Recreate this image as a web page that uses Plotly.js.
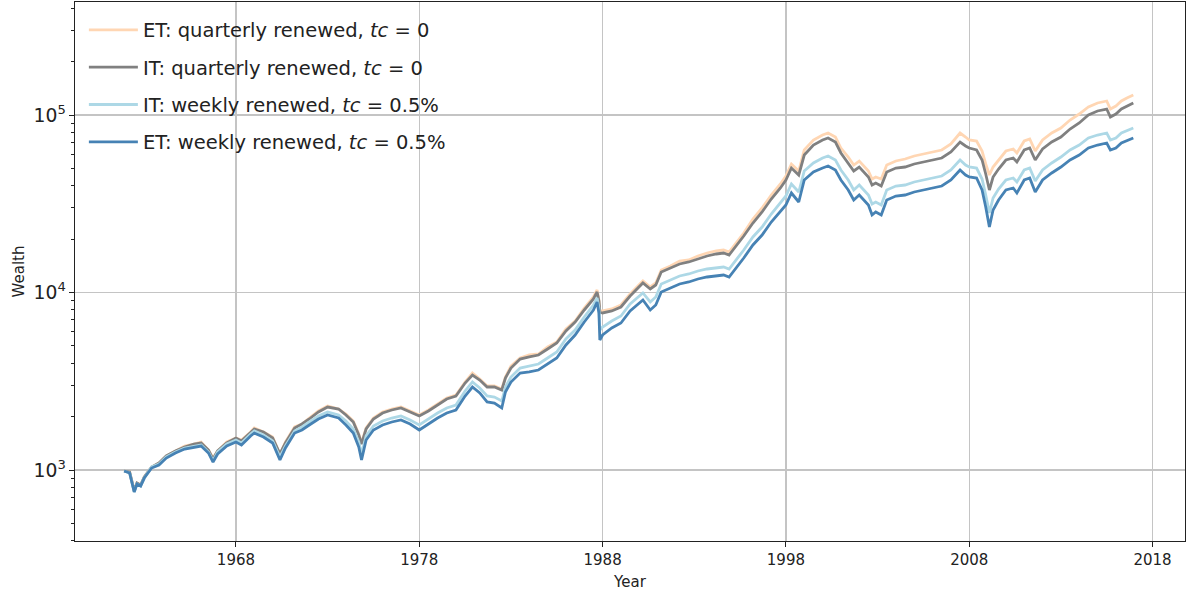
<!DOCTYPE html>
<html>
<head>
<meta charset="utf-8">
<script src="https://cdn.plot.ly/plotly-3.0.1.min.js"></script>
<style>
html,body{margin:0;padding:0;background:#fff;}
#chart{width:1189px;height:599px;}
</style>
</head>
<body>
<div id="chart"></div>
<script>
// Time axis (decimal years)
const years = [1961.9, 1962.2, 1962.45, 1962.6, 1962.8, 1963.0, 1963.4, 1963.8, 1964.2, 1964.7,
  1965.2, 1965.7, 1966.1, 1966.5, 1966.75, 1967.0, 1967.5, 1968.0, 1968.3, 1968.8,
  1969.0, 1969.5, 1970.0, 1970.4, 1970.7, 1971.2, 1971.6, 1972.0, 1972.5, 1973.0,
  1973.6, 1974.0, 1974.4, 1974.7, 1974.85, 1975.1, 1975.5, 1976.0, 1976.5, 1977.0,
  1977.5, 1978.0, 1978.5, 1979.0, 1979.5, 1980.0, 1980.5, 1980.9, 1981.3, 1981.7,
  1982.1, 1982.5, 1982.7, 1983.0, 1983.5, 1984.0, 1984.5, 1985.0, 1985.5, 1986.0,
  1986.5, 1987.0, 1987.5, 1987.7, 1987.8, 1987.85, 1988.0, 1988.5, 1989.0, 1989.5,
  1989.9, 1990.2, 1990.6, 1990.9, 1991.2, 1991.7, 1992.2, 1992.7, 1993.2, 1993.7,
  1994.2, 1994.6, 1994.9, 1995.3, 1995.7, 1996.2, 1996.7, 1997.2, 1997.7, 1998.0,
  1998.3, 1998.7, 1999.0, 1999.5, 2000.0, 2000.3, 2000.7, 2001.0, 2001.4, 2001.7,
  2002.0, 2002.5, 2002.7, 2002.9, 2003.2, 2003.5, 2004.0, 2004.5, 2005.0, 2005.5,
  2006.0, 2006.5, 2007.0, 2007.5, 2007.8, 2008.0, 2008.4, 2008.7, 2008.9, 2009.1,
  2009.3, 2009.6, 2010.0, 2010.4, 2010.6, 2011.0, 2011.3, 2011.6, 2012.0, 2012.5,
  2013.0, 2013.5, 2014.0, 2014.5, 2015.0, 2015.5, 2015.7, 2016.0, 2016.3, 2016.6, 2016.95];

// ET: quarterly renewed, tc = 0
const etQuarterly = [987, 974, 762, 845, 823, 913, 1040, 1095, 1199, 1280,
  1365, 1401, 1438, 1296, 1168, 1280, 1438, 1515, 1476, 1637,
  1724, 1637, 1535, 1231, 1438, 1747, 1816, 1963, 2150, 2294,
  2206, 2068, 1888, 1596, 1419, 1724, 1963, 2122, 2206, 2264,
  2150, 2041, 2178, 2354, 2545, 2646, 3132, 3520, 3256, 2973,
  2973, 2860, 3342, 3854, 4276, 4445, 4503, 4931, 5262, 6228,
  6910, 8180, 9433, 10330, 9073, 7867, 7867, 8074, 8504, 9808,
  10740, 11610, 10740, 11312, 13390, 14104, 15049, 15244, 16057, 16694,
  17133, 17355, 16912, 19006, 21638, 25944, 29925, 35421, 40856, 45322,
  52957, 48360, 63499, 72294, 77138, 79169, 75164, 65169, 57988, 52271,
  55059, 48360, 43588, 44737, 43588, 52271, 55059, 56499, 58747, 60292,
  61876, 63499, 68642, 79169, 75164, 72294, 71366, 62684, 52957, 45912,
  50934, 55774, 62684, 64325, 61078, 71366, 73234, 62684, 72294, 79169,
  84471, 93707, 101297, 110922, 116836, 119906, 108073, 112374, 119906, 124657, 129600];

// IT: quarterly renewed, tc = 0
const itQuarterly = [987, 974, 762, 845, 823, 913, 1040, 1095, 1199, 1280,
  1347, 1401, 1419, 1296, 1153, 1280, 1419, 1515, 1457, 1637,
  1702, 1637, 1515, 1231, 1419, 1724, 1816, 1938, 2122, 2264,
  2206, 2041, 1864, 1575, 1401, 1702, 1938, 2095, 2178, 2235,
  2122, 2015, 2150, 2324, 2512, 2612, 3091, 3429, 3214, 2935,
  2935, 2823, 3299, 3755, 4220, 4332, 4445, 4805, 5194, 6069,
  6821, 7970, 9191, 10066, 8957, 7766, 7666, 7867, 8286, 9557,
  10464, 11312, 10464, 11022, 13048, 13742, 14475, 14855, 15442, 16057,
  16479, 16694, 16265, 18280, 20812, 24636, 28413, 33629, 38789, 43029,
  50277, 45912, 59511, 67753, 72294, 74195, 70446, 61078, 53648, 48360,
  50934, 44737, 40328, 41390, 39809, 47736, 50277, 50934, 52957, 54348,
  55774, 57241, 61876, 70446, 66884, 65169, 63499, 55774, 46515, 37795,
  44737, 49626, 55774, 57241, 54348, 63499, 65169, 55774, 64325, 70446,
  75164, 83377, 90135, 99985, 105317, 108073, 97428, 101297, 108073, 112374, 116836];

// IT: weekly renewed, tc = 0.5%
const itWeekly = [987, 962, 752, 834, 813, 901, 1040, 1081, 1184, 1263,
  1330, 1365, 1383, 1263, 1124, 1263, 1401, 1476, 1419, 1596,
  1659, 1575, 1457, 1184, 1365, 1659, 1747, 1864, 2015, 2122,
  2041, 1888, 1702, 1438, 1231, 1555, 1770, 1888, 1963, 2015,
  1913, 1793, 1938, 2095, 2235, 2324, 2787, 3132, 2897, 2612,
  2578, 2448, 2935, 3342, 3755, 3854, 3955, 4276, 4622, 5470,
  6148, 7278, 8504, 9312, 8180, 6148, 6392, 6910, 7373, 8615,
  9312, 9936, 8842, 9433, 11167, 11761, 12388, 12714, 13218, 13564,
  13742, 13921, 13564, 15244, 17355, 20544, 23389, 27686, 31931, 34966,
  40856, 36829, 48360, 53648, 57241, 58747, 55774, 48989, 43029, 37795,
  40328, 35421, 31520, 32348, 31112, 37795, 39809, 40328, 41930, 43029,
  44161, 45322, 48989, 55774, 52271, 50934, 50277, 43588, 35421, 28047,
  34070, 38286, 43029, 44161, 41930, 48989, 50277, 42478, 48989, 53648,
  57988, 63499, 67753, 74195, 77138, 79169, 72294, 74195, 79169, 81251, 84471];

// ET: weekly renewed, tc = 0.5%
const etWeekly = [987, 962, 752, 834, 813, 901, 1026, 1067, 1168, 1247,
  1313, 1347, 1365, 1247, 1109, 1231, 1365, 1438, 1383, 1555,
  1616, 1535, 1419, 1139, 1330, 1616, 1680, 1793, 1938, 2041,
  1963, 1793, 1616, 1347, 1139, 1476, 1680, 1793, 1864, 1913,
  1816, 1680, 1816, 1963, 2095, 2178, 2612, 2935, 2716, 2416,
  2385, 2235, 2751, 3132, 3520, 3566, 3659, 3955, 4276, 5061,
  5762, 6821, 7970, 8842, 7666, 5400, 5762, 6310, 6733, 7867,
  8504, 9073, 7970, 8504, 10066, 10602, 11167, 11460, 11914, 12228,
  12388, 12549, 12228, 13742, 15645, 18518, 21083, 24957, 28413, 31112,
  36354, 32348, 43029, 47736, 50277, 51600, 48989, 43029, 37795, 33197,
  35421, 31112, 27327, 28413, 27327, 33197, 34966, 35421, 36829, 37795,
  38789, 39809, 43029, 48989, 45912, 44737, 44161, 37795, 30316, 23389,
  29158, 33197, 37795, 38789, 36354, 43029, 44161, 36829, 43029, 47121,
  50934, 55774, 59511, 65169, 67753, 69539, 63499, 65169, 69539, 71366, 74195];

const seriesNames = [
  'ET: quarterly renewed, <i>tc</i> = 0',
  'IT: quarterly renewed, <i>tc</i> = 0',
  'IT: weekly renewed, <i>tc</i> = 0.5%',
  'ET: weekly renewed, <i>tc</i> = 0.5%'
];
const seriesValues = [etQuarterly, itQuarterly, itWeekly, etWeekly];
const seriesColors = ['#ffd6b3', '#808080', '#add8e6', '#4682b4'];

const traces = seriesValues.map((vals, i) => ({
  x: years,
  y: vals,
  type: 'scatter',
  mode: 'lines',
  name: seriesNames[i],
  legendgroup: 'g' + i,
  line: {color: seriesColors[i], width: 2.8}
}));

const fontFam = 'DejaVu Sans, sans-serif';
const layout = {
  width: 1189,
  height: 599,
  margin: {l: 75, r: 4, t: 2, b: 58},
  paper_bgcolor: '#fff',
  plot_bgcolor: '#fff',
  font: {family: fontFam, size: 15, color: '#222'},
  showlegend: true,
  legend: {
    x: 0.008, y: 0.984, xanchor: 'left', yanchor: 'top',
    bgcolor: 'rgba(255,255,255,0)',
    borderwidth: 0,
    font: {family: fontFam, size: 19.5, color: '#222'},
    traceorder: 'grouped',
    tracegroupgap: 9,
    itemwidth: 49
  },
  xaxis: {
    type: 'linear',
    range: [1959.22, 2019.77],
    tick0: 1968, dtick: 10,
    showgrid: true, gridcolor: '#c4c4c4', gridwidth: 1.2,
    zeroline: false,
    showline: true, linecolor: '#222', linewidth: 1.2, mirror: true,
    ticks: 'outside', ticklen: 5, tickwidth: 1, tickcolor: '#222',
    tickfont: {family: fontFam, size: 15, color: '#222'},
    title: {text: 'Year', font: {family: fontFam, size: 15, color: '#222'}, standoff: 8}
  },
  yaxis: {
    type: 'log',
    range: [2.6, 5.6366],
    dtick: 1,
    exponentformat: 'power',
    showgrid: true, gridcolor: '#c4c4c4', gridwidth: 1.2,
    zeroline: false,
    showline: true, linecolor: '#222', linewidth: 1.2, mirror: true,
    ticks: 'outside', ticklen: 5, tickwidth: 1, tickcolor: '#222',
    tickfont: {family: fontFam, size: 15, color: '#222'},
    minor: {ticks: 'outside', ticklen: 3, tickwidth: 1, tickcolor: '#222', dtick: 'D1', showgrid: false},
    title: {text: 'Wealth', font: {family: fontFam, size: 15, color: '#222'}, standoff: 5}
  }
};

Plotly.newPlot('chart', traces, layout, {staticPlot: true, displayModeBar: false});
</script>
</body>
</html>
